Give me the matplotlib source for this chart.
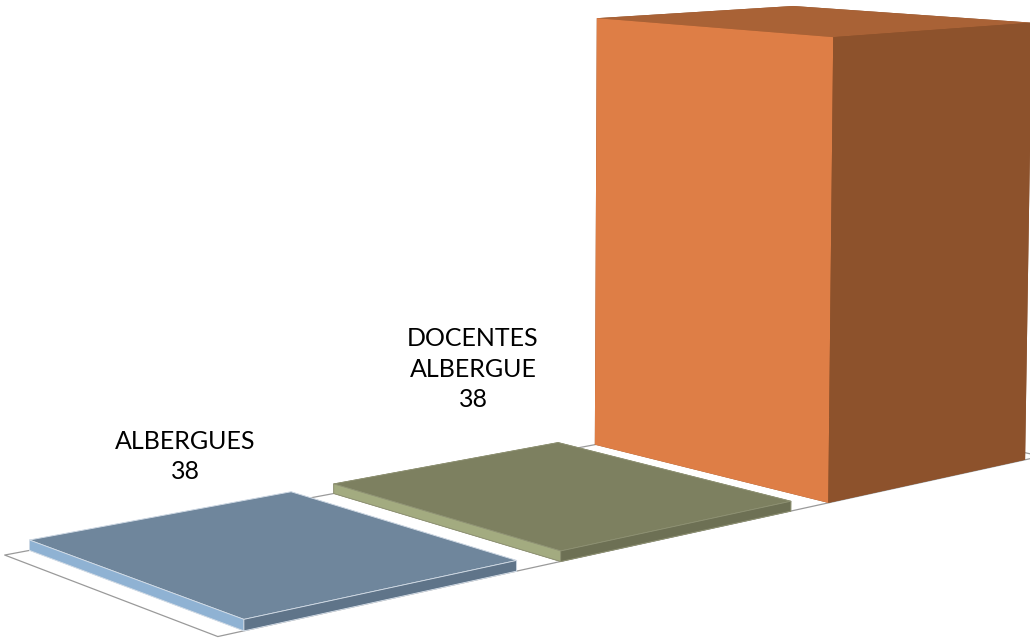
import numpy as np
import matplotlib
matplotlib.use("Agg")
import matplotlib.pyplot as plt
from mpl_toolkits.mplot3d.art3d import Poly3DCollection

# bar data (the third bar has no label in the picture)
categories = ["ALBERGUES", "DOCENTES\nALBERGUE", ""]
values = [38, 38, 1800]

# faces: top, front, side
top_colors = ["#6F869C", "#7D8060", "#A96236"]
front_colors = ["#5F7489", "#6D7054", "#8D522C"]
side_colors = ["#8FB2D3", "#A3AB80", "#DE7E46"]
edge_colors = ["#D5DEE8", "#8F9274", "none"]

# label centres and bottoms, in figure pixels
label_x = [185, 473]
label_y = [483, 411]

# camera: data (x, y, z) to pixels (x, y, depth, w)
camera = np.array([
    [368.2124, -211.1595, -0.003241123, 243.9279],
    [-17.80893, -20.17493, -0.3065445, 630.8342],
    [0.0, 0.0, 0.0, -1.0],
    [0.09181817, 0.1094953, -7.807094e-06, 1.0],
])

bar_width = 0.85
bar_depth = 1.0
floor_margin = 0.075

plt.rcParams['font.family'] = ['Lato', 'DejaVu Sans']

fig = plt.figure(figsize=(10.3, 6.38), dpi=100)
ax = fig.add_axes([0, 0, 1, 1], projection='3d', computed_zorder=False)
ax.get_proj = lambda: camera
ax.apply_aspect = lambda position=None: None
ax.viewLim.intervalx = (0, 1030)
ax.viewLim.intervaly = (638, 0)
ax.set_axis_off()

# floor outline
floor_left = -floor_margin
floor_right = len(values) - 1 + bar_width + floor_margin
floor = [[(floor_left, bar_depth, 0), (floor_left, 0, 0),
          (floor_right, 0, 0), (floor_right, bar_depth, 0)]]
ax.add_collection3d(Poly3DCollection(floor, facecolor="white", edgecolor="#9A9A9A",
                                     linewidth=0.9, zorder=0))

for i, value in enumerate(values):
    # bar3d face order: bottom, top, front, back, side, far side
    colors = [front_colors[i], top_colors[i], front_colors[i],
              front_colors[i], side_colors[i], front_colors[i]]
    ax.bar3d(i, 0, 0, bar_width, bar_depth, value, color=colors, shade=False,
             edgecolor=edge_colors[i], linewidth=0.6, zorder=i + 1)

for i in range(2):
    ax.text2D(label_x[i] / 1030, 1 - label_y[i] / 638, f"{categories[i]}\n{values[i]}",
              transform=fig.transFigure, ha='center', va='bottom',
              fontsize=18, linespacing=1.39, color="black")

fig.savefig("out.png", dpi=100)
